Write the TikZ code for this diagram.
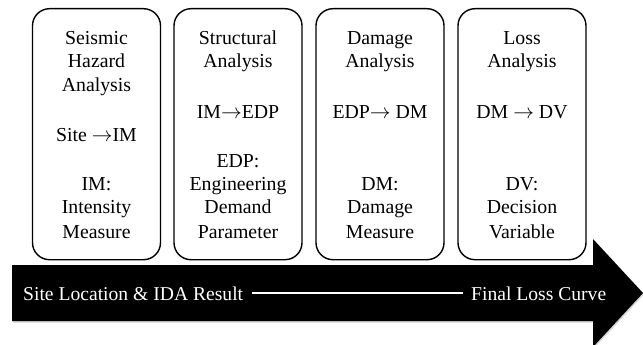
\documentclass[tikz,border=0pt]{standalone}
\usepackage{fontspec}
\setmainfont{Liberation Serif}
\usetikzlibrary{shadows}
\newcommand{\rarr}{\ensuremath{\rightarrow}}
\begin{document}
\begin{tikzpicture}[x=1pt,y=-1pt,
  stagebox/.style={draw=black,line width=1.4pt,rounded corners=17pt,fill=white,
    minimum width=128pt,minimum height=251pt,inner sep=0pt,anchor=north},
  lbl/.style={inner sep=0pt,anchor=base,font=\fontsize{19.8}{24}\selectfont},
  wlbl/.style={inner sep=0pt,anchor=base west,text=white,font=\fontsize{19.6}{24}\selectfont}]
\useasboundingbox (0,0) rectangle (643,345);
% stage boxes
\node[stagebox] (b1) at (96.5,8) {};
\node[stagebox] (b2) at (238,8) {};
\node[stagebox] (b3) at (380,8) {};
\node[stagebox] (b4) at (522,8) {};
% box 1 text
\foreach \t/\y [count=\i] in {Seismic/45,Hazard/68,Analysis/92,Site \rarr IM/141.5,IM:/190,Intensity/213.5,Measure/238}
  \node[lbl] (a\i) at (96.5,\y) {\t};
% box 2 text
\foreach \t/\y [count=\i] in {Structural/45,Analysis/68,IM\rarr EDP/118,EDP:/167,Engineering/190,Demand/213.5,Parameter/238}
  \node[lbl] (c\i) at (238,\y) {\t};
% box 3 text
\foreach \t/\y [count=\i] in {Damage/45,Analysis/68,EDP\rarr{} DM/118,DM:/190,Damage/213.5,Measure/238}
  \node[lbl] (d\i) at (380,\y) {\t};
% box 4 text
\foreach \t/\y [count=\i] in {Loss/45,Analysis/68,DM \rarr{} DV/118,DV:/190,Decision/213.5,Variable/238}
  \node[lbl] (e\i) at (522,\y) {\t};
% big arrow
\fill[black,drop shadow={opacity=0.35,shadow xshift=0.8pt,shadow yshift=-1.5pt}]
  (12,265) -- (593,265) -- (593,239) -- (643,293) -- (593,347) -- (593,321) -- (12,321) -- cycle;
\node[wlbl] (start) at (23,300) {Site Location \& IDA Result};
\node[wlbl] (final) at (471,300) {Final Loss Curve};
\draw[white,line width=2.2pt,shorten <=9pt,shorten >=8pt] (start.east) -- (final.west);
\end{tikzpicture}
\end{document}
